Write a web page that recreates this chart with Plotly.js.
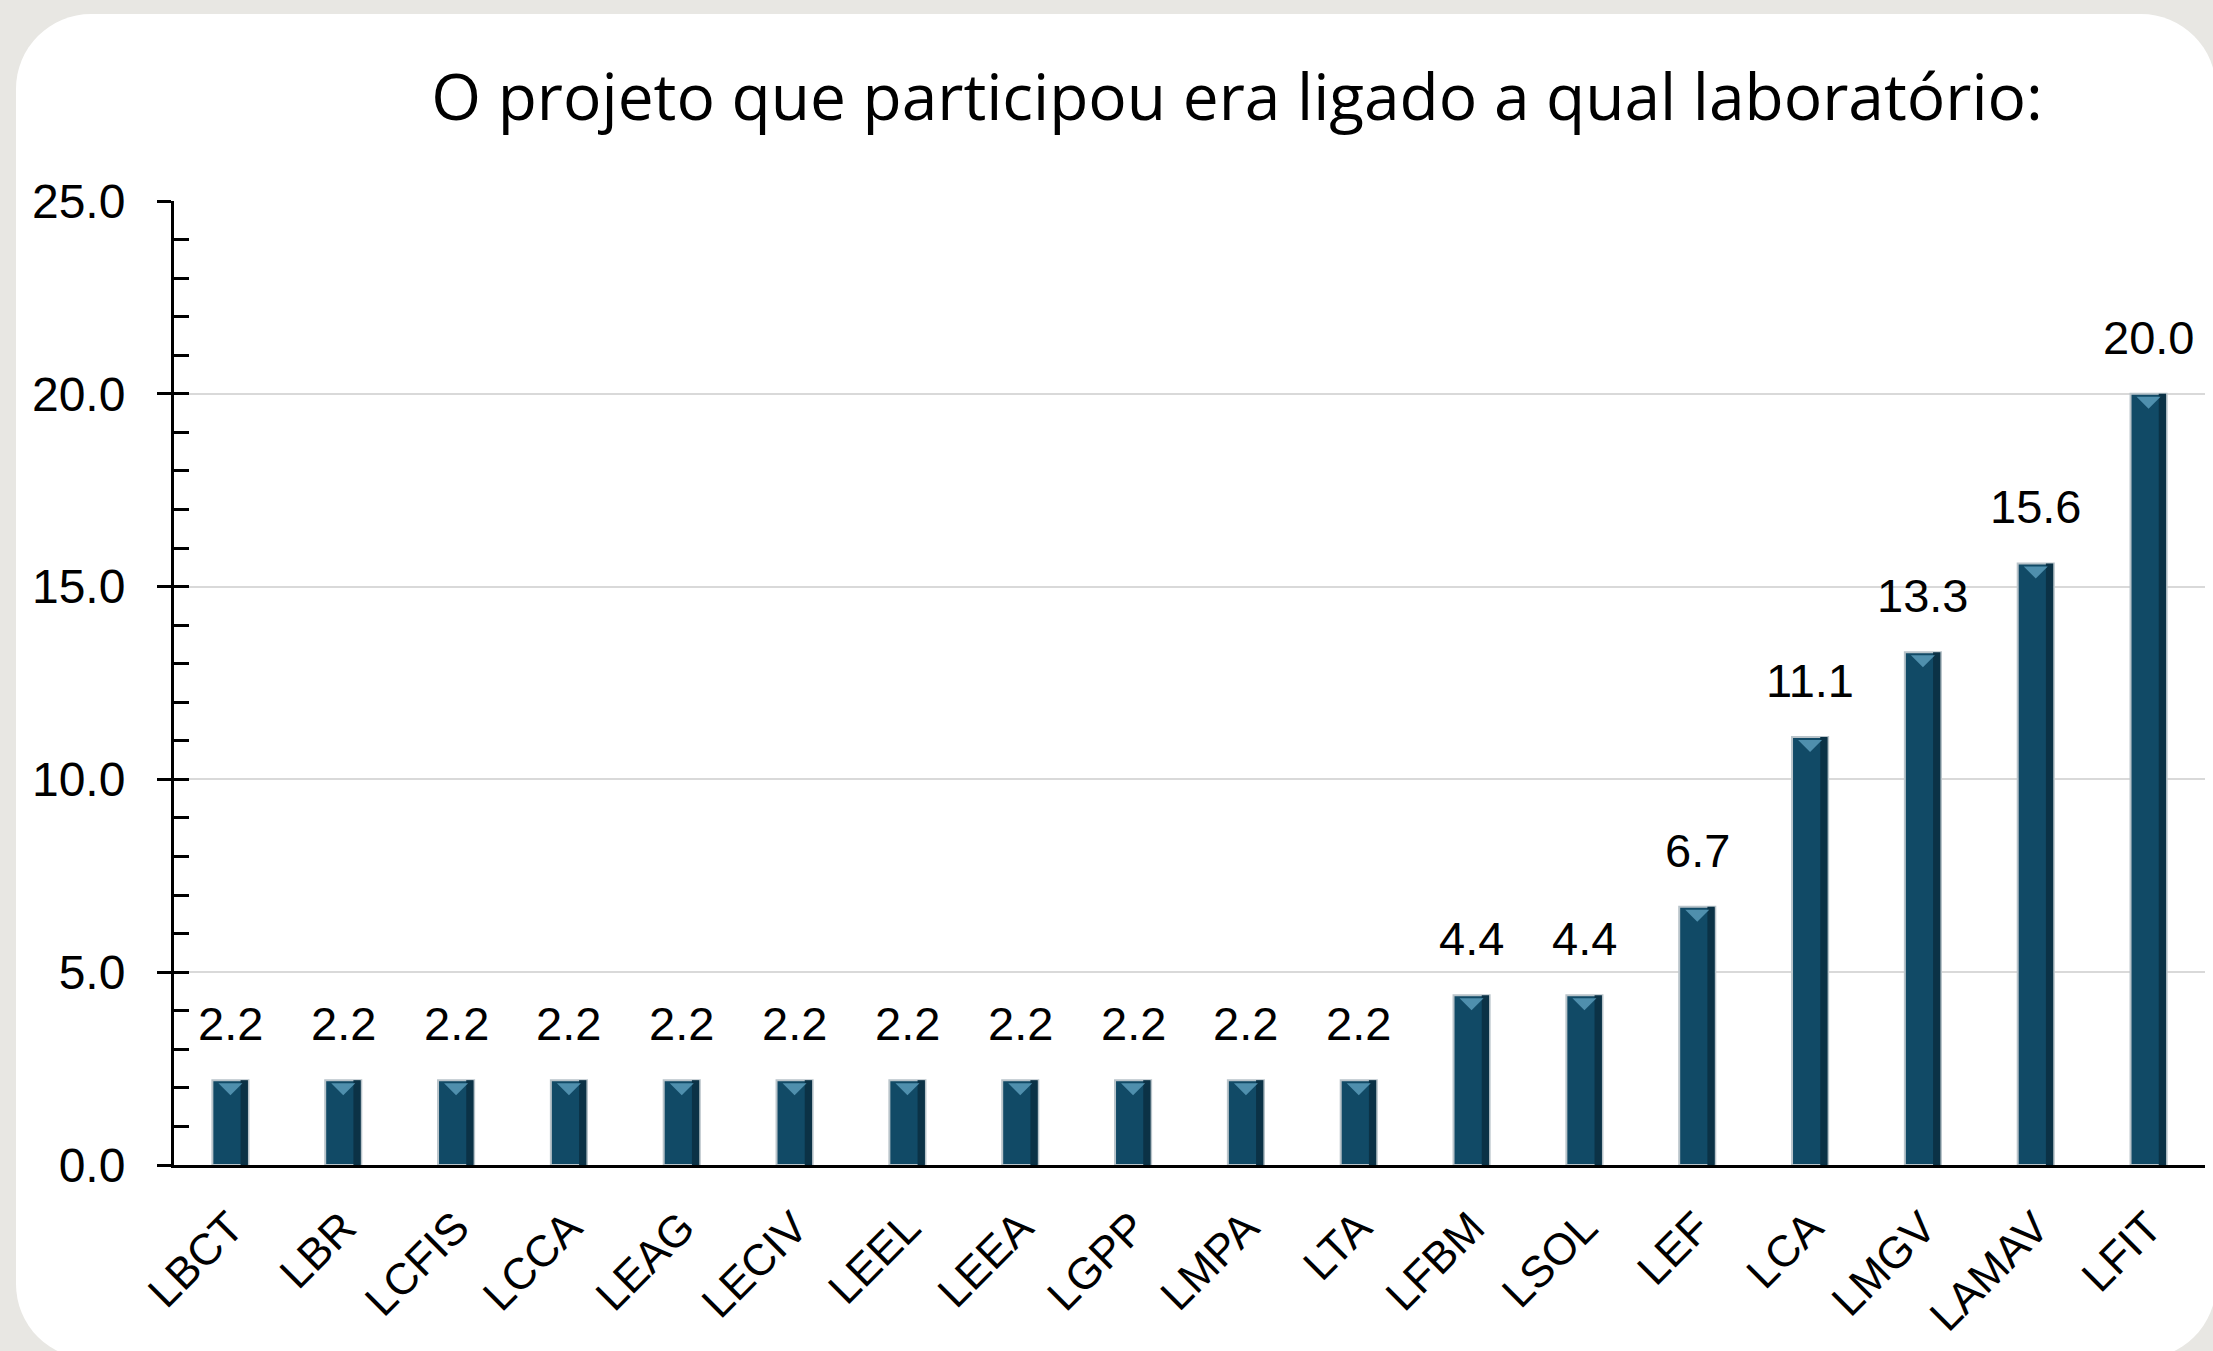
<!DOCTYPE html>
<html>
<head>
<meta charset="utf-8">
<script src="https://cdn.plot.ly/plotly-3.0.1.min.js"></script>
<style>
  html, body { margin: 0; padding: 0; background: #e8e7e3; overflow: hidden; }
  #card { position: absolute; left: 16px; top: 14px; width: 2200px; height: 1345px;
          background: #ffffff; border-radius: 75px; }
  #chart { position: absolute; left: 0; top: 0; width: 2213px; height: 1351px; }
</style>
</head>
<body>
<div id="card"></div>
<div id="chart"></div>
<script>
// laboratórios, em ordem do gráfico
var labs = ['LBCT', 'LBR', 'LCFIS', 'LCCA', 'LEAG', 'LECIV', 'LEEL', 'LEEA', 'LGPP',
            'LMPA', 'LTA', 'LFBM', 'LSOL', 'LEF', 'LCA', 'LMGV', 'LAMAV', 'LFIT'];
// percentual de respostas
var percent = [2.2, 2.2, 2.2, 2.2, 2.2, 2.2, 2.2, 2.2, 2.2,
               2.2, 2.2, 4.4, 4.4, 6.7, 11.1, 13.3, 15.6, 20.0];
var yTicks = [0, 5, 10, 15, 20, 25];

var numFont = 'Liberation Sans, Arial, sans-serif';

var mainBars = {
  type: 'bar',
  x: labs,
  y: percent,
  width: 0.32,
  marker: { color: '#114a66', line: { color: '#b9c4ca', width: 2 } },
  hoverinfo: 'x+y',
  showlegend: false
};

// darker right edge of each bar
var edgeBars = {
  type: 'bar',
  x: labs,
  y: percent,
  yaxis: 'y2',
  width: 0.065,
  offset: 0.09,
  marker: { color: '#0b3246', line: { width: 0 } },
  hoverinfo: 'skip',
  showlegend: false
};

var labels = percent.map(function (v, i) {
  return {
    x: i, y: v, xref: 'x', yref: 'y',
    text: v.toFixed(1),
    showarrow: false,
    yanchor: 'bottom',
    yshift: 28,
    font: { family: numFont, size: 47, color: '#000000' }
  };
});

// light bevel triangle at the top of each bar
var bevels = percent.map(function (v, i) {
  return {
    type: 'path', xref: 'x', yref: 'y',
    xsizemode: 'pixel', ysizemode: 'pixel',
    xanchor: i, yanchor: v,
    path: 'M-12,-3 L12,-3 L0,-15 Z',
    fillcolor: '#4f8fad',
    line: { width: 0 }
  };
});

var layout = {
  width: 2213,
  height: 1351,
  paper_bgcolor: 'rgba(0,0,0,0)',
  plot_bgcolor: 'rgba(0,0,0,0)',
  margin: { l: 174, r: 8, t: 201, b: 186, pad: 0 },
  barmode: 'overlay',
  title: {
    text: 'O projeto que participou era ligado a qual laboratório:',
    xref: 'container', x: 0.559, xanchor: 'center',
    yref: 'container', y: 0.928, yanchor: 'middle',
    font: { family: 'Open Sans, sans-serif', size: 64, color: '#000000' }
  },
  xaxis: {
    type: 'category',
    showline: true, linewidth: 3, linecolor: '#000000',
    ticks: '', showgrid: false, zeroline: false,
    tickangle: -45,
    ticklabelstandoff: 16,
    tickfont: { family: numFont, size: 44, color: '#000000' },
    automargin: false
  },
  yaxis: {
    range: [0, 25],
    tickvals: yTicks,
    tickformat: '.1f',
    ticks: 'outside', ticklen: 14, tickwidth: 3, tickcolor: '#000000',
    showline: true, linewidth: 3, linecolor: '#000000',
    showgrid: true, gridcolor: '#d9d9d9', gridwidth: 2,
    zeroline: false,
    ticklabelstandoff: 22,
    tickfont: { family: numFont, size: 48, color: '#000000' },
    automargin: false
  },
  yaxis2: {
    overlaying: 'y',
    range: [0, 25],
    dtick: 1,
    ticks: 'inside', ticklen: 15, tickwidth: 3, tickcolor: '#000000',
    showticklabels: false, showgrid: false, showline: false, zeroline: false
  },
  annotations: labels,
  shapes: bevels
};

Plotly.newPlot('chart', [mainBars, edgeBars], layout, { displayModeBar: false, staticPlot: true });
</script>
</body>
</html>
